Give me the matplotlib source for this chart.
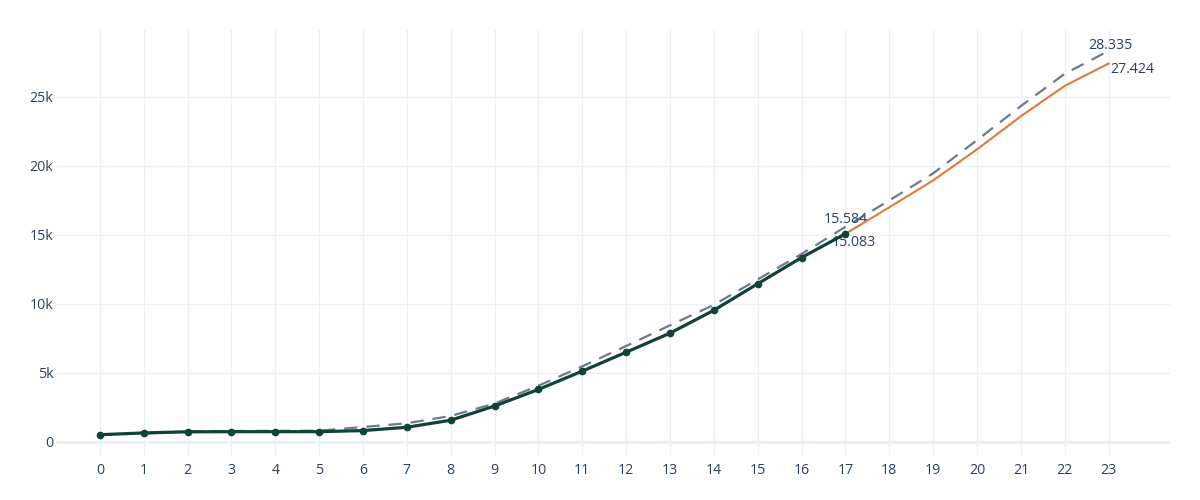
import matplotlib
matplotlib.use('Agg')
import matplotlib.pyplot as plt
from matplotlib.ticker import FuncFormatter

plt.rcParams['font.family'] = ['Open Sans', 'DejaVu Sans']

# valores
x_real = list(range(0, 18))
y_real = [520, 650, 730, 740, 740, 740, 820, 1060, 1570, 2600, 3800, 5130, 6500,
          7880, 9540, 11460, 13360, 15083]

x_prev = list(range(17, 24))
y_prev = [15083, 17000, 18950, 21200, 23600, 25800, 27424]

x_tend = list(range(0, 24))
y_tend = [540, 600, 760, 790, 800, 810, 1080, 1350, 1880, 2780, 4070, 5480, 6950,
          8450, 9930, 11780, 13620, 15584, 17500, 19460, 21870, 24340, 26680, 28335]

cor_txt = '#2a3f5f'
cor_grid = '#ebf0f8'
fs = 10.2

fig = plt.figure(figsize=(12, 5), dpi=100)
ax = fig.add_axes([56/1200, 45/500, (1170-56)/1200, (455-30)/500])

ax.plot(x_tend, y_tend, color='#6c7a8f', lw=1.6, dashes=(6, 4), zorder=3)
ax.plot(x_prev, y_prev, color='#e07b39', lw=1.5, zorder=4)
ax.plot(x_real, y_real, color='#0f4336', lw=2.3, marker='o', ms=4.5, zorder=5)

# rotulos
ax.annotate('15.584', (17, y_tend[17]), xytext=(0, 5), textcoords='offset points',
            ha='center', va='center', color=cor_txt, fontsize=fs)
ax.annotate('15.083', (17, y_real[-1]), xytext=(6, -6.5), textcoords='offset points',
            ha='center', va='center', color=cor_txt, fontsize=fs)
ax.annotate('28.335', (23, y_tend[-1]), xytext=(1, 4), textcoords='offset points',
            ha='center', va='center', color=cor_txt, fontsize=fs)
ax.annotate('27.424', (23, y_prev[-1]), xytext=(1.5, -4.5), textcoords='offset points',
            ha='left', va='center', color=cor_txt, fontsize=fs)

ax.set_xlim(-1.0, 24.4)
ax.set_ylim(-950, 29850)
ax.set_xticks(range(0, 24))
ax.set_yticks([0, 5000, 10000, 15000, 20000, 25000])
ax.yaxis.set_major_formatter(FuncFormatter(lambda v, p: '0' if v == 0 else '%dk' % (v/1000)))
ax.tick_params(length=0, colors=cor_txt, labelsize=fs)
ax.tick_params(axis='y', pad=2)
ax.tick_params(axis='x', pad=6)
ax.grid(True, color=cor_grid, lw=1)
ax.axhline(0, color=cor_grid, lw=2, zorder=1)
ax.set_axisbelow(True)
for s in ax.spines.values():
    s.set_visible(False)

fig.savefig('out.png')
